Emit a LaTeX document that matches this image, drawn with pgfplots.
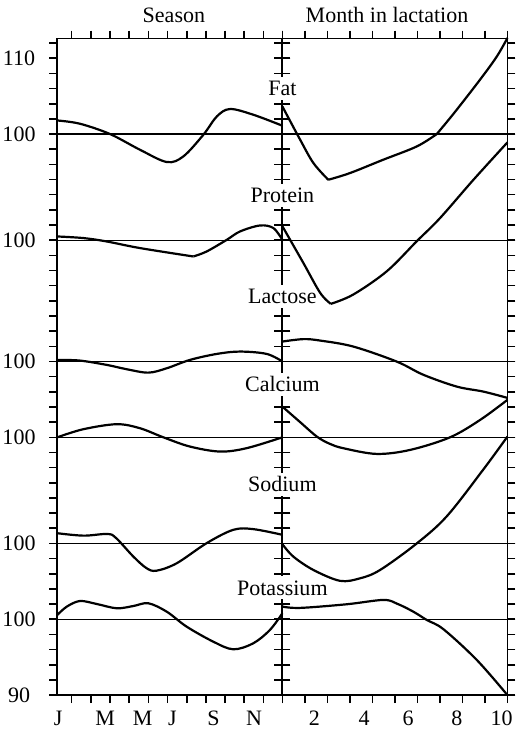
\documentclass[border=0pt]{standalone}
\usepackage{pgfplots}
\pgfplotsset{compat=1.18}
\usepackage{fontspec}
\setmainfont{Liberation Serif}
\begin{document}
\begin{tikzpicture}
\pgfplotsset{
  common/.style={
    scale only axis, width=112.5pt, height=328.2pt,
    ymin=0, ymax=86.6,
    axis line style={line width=0.9pt},
    tick style={line width=0.8pt, black},
    tick align=outside,
    major tick length=4pt, minor tick length=4pt,
    xtick pos=both, ytick pos=both,
    ytick={0,10,20,34,44,60,74,84},
    minor ytick={0,2,...,86},
    major x tick style={draw=none},
    clip=false,
    font=\fontsize{11}{13}\selectfont,
    /pgf/number format/assume math mode=true,
    xticklabel style={anchor=base, yshift=-11.2pt, inner sep=0pt},
    yticklabel style={anchor=center, inner sep=0pt, xshift=-15.15pt},
    curve/.style={line width=1.1pt, black, smooth, tension=0.55},
    ref/.style={line width=0.65pt, black},
  },
}
\begin{axis}[common, name=left, at={(0,0)}, anchor=south west,
  xmin=0, xmax=11.74,
  xtick={0.05,2.5,4.45,6.0,8.15,10.26}, xticklabels={J,M,M,J,S,N},
  minor xtick={0.75,1.75,2.75,3.75,4.75,5.75,6.75,7.75,8.75,9.75,10.75,11.74},
  yticklabels={90,100,100,100,100,100,100,110},
  title={Season}, title style={at={(0.518,1)}, anchor=base, yshift=2.25pt},
]
\foreach \h in {10,20,34,44,60,74}{\edef\tmp{\noexpand\addplot[ref] coordinates {(0,\h) (11.74,\h)};}\tmp}
% Fat
\addplot[curve] coordinates {(0,75.79) (1.18,75.36) (2.75,74.0) (4.31,71.93) (5.71,70.31) (6.57,71.04) (7.62,73.91) (8.32,76.32) (9.01,77.30) (10.22,76.55) (11.74,75.10)};
% Protein
\addplot[curve] coordinates {(0,60.49) (1.36,60.28) (2.58,59.83) (4.31,58.96) (7.1,57.85)};
\addplot[curve] coordinates {(7.1,57.85) (7.79,58.51) (8.84,60.05) (9.53,61.15) (10.57,61.94) (11.27,61.6) (11.74,60.05)};
% Lactose
\addplot[curve] coordinates {(0,44.21) (1.18,44.12) (2.58,43.55) (3.62,42.98) (4.75,42.53) (5.71,43.11) (6.92,44.21) (8.32,45.0) (9.53,45.31) (10.92,45.0) (11.74,44.0)};
% Calcium
\addplot[curve] coordinates {(0,34.0) (1.36,35.07) (3.1,35.73) (4.31,35.2) (5.53,34.0) (6.92,32.78) (8.49,32.12) (9.88,32.57) (11.74,34.0)};
% Sodium
\addplot[curve] coordinates {(0,21.35) (1.36,21.03) (2.6,21.25) (3.05,20.75) (3.97,18.26) (4.66,16.73) (5.18,16.41) (6.23,17.39) (7.79,20.04) (9.18,21.8) (10.22,21.89) (11.74,21.14)};
% Potassium
\addplot[curve] coordinates {(0,10.57) (0.49,11.66) (1.18,12.41) (2.05,12.02) (3.1,11.45) (3.97,11.75) (4.75,12.11) (5.71,11.0) (6.75,9.02) (8.14,7.04) (9.18,6.04) (10.22,6.83) (11.09,8.59) (11.74,10.79)};
\end{axis}
\begin{axis}[common, name=right, at={(112.5pt,0)}, anchor=south west,
  xmin=0, xmax=10,
  xtick={1.42,3.63,5.59,7.75,9.74}, xticklabels={2,4,6,8,10},
  minor xtick={0,1,2,3,4,5,6,7,8,9,10},
  yticklabels={},
  title={Month in lactation}, title style={at={(0.465,1)}, anchor=base, yshift=2.25pt},
]
% panel labels over the divider
\begin{scope}[every node/.style={fill=white, inner xsep=1pt, inner ysep=2pt, anchor=base}]
\node at (axis cs:0,79.05) {Fat};
\node at (axis cs:0,64.93) {Protein};
\node at (axis cs:0,51.61) {Lactose};
\node at (axis cs:0,39.99) {Calcium};
\node at (axis cs:0,26.79) {Sodium};
\node at (axis cs:0,13.2) {Potassium};
\end{scope}
\foreach \h in {10,20,34,44,60,74}{\edef\tmp{\noexpand\addplot[ref] coordinates {(0,\h) (10,\h)};}\tmp}
% Fat
\addplot[curve] coordinates {(0,77.64) (0.79,73.25) (1.38,70.17) (2.04,67.97)};
\addplot[curve] coordinates {(2.04,67.97) (3.0,68.85) (4.48,70.61) (5.97,72.36) (6.86,74.0)};
\addplot[curve] coordinates {(6.86,74.0) (7.63,76.77) (8.79,81.2) (9.53,84.24) (10,86.67)};
% Protein
\addplot[curve] coordinates {(0,61.84) (0.93,57.01) (1.68,53.05) (2.15,51.6)};
\addplot[curve] coordinates {(2.15,51.6) (3.15,52.83) (4.64,55.9) (5.97,59.86) (7.0,62.9) (8.49,67.97) (10,72.9)};
% Lactose
\addplot[curve] coordinates {(0,46.63) (0.93,46.95) (1.68,46.76) (3.15,45.97) (5.08,43.99) (6.27,42.24) (7.75,40.69) (8.93,40.03) (10,39.2)};
% Calcium
\addplot[curve] coordinates {(0,38.05) (0.79,36.0) (1.53,34.1) (2.1,33.15) (2.71,32.56) (4.19,31.81) (5.68,32.34) (7.45,34.0) (8.79,36.3) (10,38.94)};
% Sodium
\addplot[curve] coordinates {(0,19.9) (0.49,18.26) (1.38,16.5) (2.56,15.07) (3.45,15.4) (4.34,16.5) (5.97,20.0) (7.31,23.6) (8.93,29.76) (10,34.1)};
% Potassium
\addplot[curve] coordinates {(0,11.67) (0.79,11.5) (2.86,11.98) (4.49,12.55) (5.1,12.05) (5.82,11.0) (6.42,9.9) (7.16,8.68) (8.64,4.63) (10,0)};
\end{axis}
\pgfresetboundingbox
\path (-28.65pt,-17.45pt) rectangle (229.85pt,347.45pt);
\end{tikzpicture}
\end{document}
